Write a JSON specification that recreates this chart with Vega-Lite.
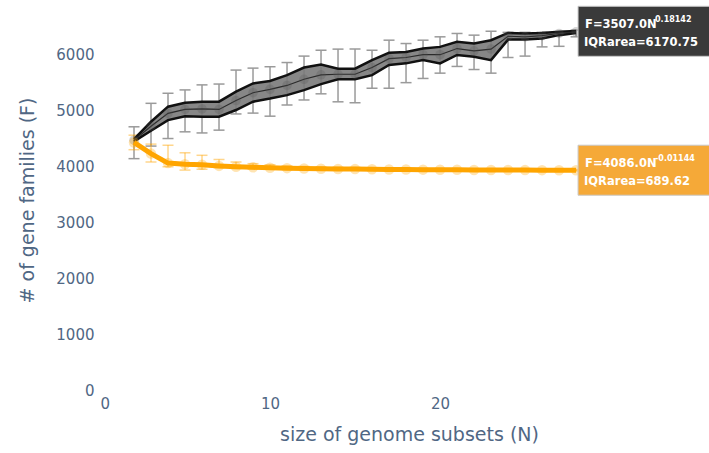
{
  "$schema": "https://vega.github.io/schema/vega-lite/v6.json",
  "autosize": {"type": "none"},
  "width": 609,
  "height": 380,
  "padding": {"left": 100, "top": 10, "right": 0, "bottom": 63},
  "background": "white",
  "datasets": {
    "pan": [
      {"N": 2, "med": 4470, "q1": 4450, "q3": 4490, "lo": 4140, "hi": 4710},
      {"N": 3, "med": 4720, "q1": 4640, "q3": 4800, "lo": 4365, "hi": 5130},
      {"N": 4, "med": 4950, "q1": 4830, "q3": 5070, "lo": 4500, "hi": 5310},
      {"N": 5, "med": 5020, "q1": 4900, "q3": 5140, "lo": 4620, "hi": 5370},
      {"N": 6, "med": 5030, "q1": 4890, "q3": 5160, "lo": 4600, "hi": 5460},
      {"N": 7, "med": 5020, "q1": 4890, "q3": 5160, "lo": 4650, "hi": 5475},
      {"N": 8, "med": 5180, "q1": 5010, "q3": 5340, "lo": 4940, "hi": 5725},
      {"N": 9, "med": 5320, "q1": 5160, "q3": 5485, "lo": 4955, "hi": 5760},
      {"N": 10, "med": 5380, "q1": 5215, "q3": 5530, "lo": 4900, "hi": 5785},
      {"N": 11, "med": 5450, "q1": 5277, "q3": 5635, "lo": 5100, "hi": 5860},
      {"N": 12, "med": 5560, "q1": 5367, "q3": 5770, "lo": 5190, "hi": 5975},
      {"N": 13, "med": 5640, "q1": 5474, "q3": 5823, "lo": 5300, "hi": 6080},
      {"N": 14, "med": 5650, "q1": 5560, "q3": 5750, "lo": 5157, "hi": 6100},
      {"N": 15, "med": 5650, "q1": 5560, "q3": 5750, "lo": 5140, "hi": 6100},
      {"N": 16, "med": 5770, "q1": 5635, "q3": 5903, "lo": 5400, "hi": 6080},
      {"N": 17, "med": 5930, "q1": 5815, "q3": 6035, "lo": 5400, "hi": 6260},
      {"N": 18, "med": 5950, "q1": 5845, "q3": 6050, "lo": 5500, "hi": 6200},
      {"N": 19, "med": 6000, "q1": 5903, "q3": 6110, "lo": 5575, "hi": 6260},
      {"N": 20, "med": 6000, "q1": 5845, "q3": 6140, "lo": 5670, "hi": 6320},
      {"N": 21, "med": 6110, "q1": 5995, "q3": 6230, "lo": 5790, "hi": 6380},
      {"N": 22, "med": 6070, "q1": 5965, "q3": 6200, "lo": 5735, "hi": 6350},
      {"N": 23, "med": 6100, "q1": 5903, "q3": 6260, "lo": 5670, "hi": 6420},
      {"N": 24, "med": 6330, "q1": 6270, "q3": 6390, "lo": 5950, "hi": 6400},
      {"N": 25, "med": 6320, "q1": 6270, "q3": 6380, "lo": 5975, "hi": 6400},
      {"N": 26, "med": 6340, "q1": 6290, "q3": 6390, "lo": 6140, "hi": 6400},
      {"N": 27, "med": 6380, "q1": 6350, "q3": 6410, "lo": 6150, "hi": 6410},
      {"N": 28, "med": 6410, "q1": 6390, "q3": 6425, "lo": 6320, "hi": 6440}
    ],
    "core": [
      {"N": 2, "med": 4430, "q1": 4410, "q3": 4450, "lo": 4300, "hi": 4560},
      {"N": 3, "med": 4230, "q1": 4200, "q3": 4260, "lo": 4080, "hi": 4400},
      {"N": 4, "med": 4060, "q1": 4040, "q3": 4080, "lo": 3995, "hi": 4380},
      {"N": 5, "med": 4040, "q1": 4020, "q3": 4060, "lo": 3935, "hi": 4245},
      {"N": 6, "med": 4030, "q1": 4010, "q3": 4050, "lo": 3950, "hi": 4200},
      {"N": 7, "med": 4010, "q1": 3990, "q3": 4030, "lo": 3980, "hi": 4125},
      {"N": 8, "med": 3995, "q1": 3975, "q3": 4015, "lo": 3965, "hi": 4080},
      {"N": 9, "med": 3985, "q1": 3965, "q3": 4005, "lo": 3955, "hi": 4050},
      {"N": 10, "med": 3978, "q1": 3960, "q3": 3996, "lo": 3950, "hi": 4030},
      {"N": 11, "med": 3970, "q1": 3952, "q3": 3988, "lo": 3945, "hi": 4010},
      {"N": 12, "med": 3965, "q1": 3948, "q3": 3982, "lo": 3940, "hi": 4000},
      {"N": 13, "med": 3960, "q1": 3944, "q3": 3976, "lo": 3938, "hi": 3992},
      {"N": 14, "med": 3956, "q1": 3940, "q3": 3972, "lo": 3935, "hi": 3985},
      {"N": 15, "med": 3953, "q1": 3938, "q3": 3968, "lo": 3933, "hi": 3980},
      {"N": 16, "med": 3950, "q1": 3936, "q3": 3964, "lo": 3930, "hi": 3975},
      {"N": 17, "med": 3947, "q1": 3934, "q3": 3960, "lo": 3928, "hi": 3970},
      {"N": 18, "med": 3945, "q1": 3932, "q3": 3958, "lo": 3926, "hi": 3966},
      {"N": 19, "med": 3943, "q1": 3931, "q3": 3955, "lo": 3925, "hi": 3963},
      {"N": 20, "med": 3941, "q1": 3930, "q3": 3952, "lo": 3924, "hi": 3960},
      {"N": 21, "med": 3940, "q1": 3929, "q3": 3951, "lo": 3923, "hi": 3958},
      {"N": 22, "med": 3938, "q1": 3928, "q3": 3948, "lo": 3922, "hi": 3955},
      {"N": 23, "med": 3937, "q1": 3927, "q3": 3947, "lo": 3921, "hi": 3953},
      {"N": 24, "med": 3936, "q1": 3927, "q3": 3945, "lo": 3920, "hi": 3952},
      {"N": 25, "med": 3935, "q1": 3926, "q3": 3944, "lo": 3920, "hi": 3950},
      {"N": 26, "med": 3934, "q1": 3926, "q3": 3942, "lo": 3920, "hi": 3948},
      {"N": 27, "med": 3933, "q1": 3926, "q3": 3940, "lo": 3920, "hi": 3946},
      {"N": 28, "med": 3932, "q1": 3926, "q3": 3938, "lo": 3920, "hi": 3944}
    ],
    "notes": [
      {"series": "pan", "N": 28, "F": 6419, "formula": "F=3507.0N", "exponent": "0.18142", "iqr": "IQRarea=6170.75"},
      {"series": "core", "N": 28, "F": 3933, "formula": "F=4086.0N", "exponent": "-0.01144", "iqr": "IQRarea=689.62"}
    ]
  },
  "encoding": {
    "x": {"field": "N", "type": "quantitative", "scale": {"domain": [0, 35.82], "nice": false, "zero": false},
          "axis": {"values": [0, 10, 20], "format": "d", "title": "size of genome subsets (N)", "titleX": 309}}
  },
  "layer": [
    {
      "data": {"name": "pan"},
      "mark": {"type": "rule", "color": "#9a9a9a", "strokeWidth": 1.5},
      "encoding": {
        "y": {"field": "lo", "type": "quantitative", "title": "# of gene families (F)",
              "scale": {"domain": [0, 6800], "nice": false},
              "axis": {"values": [0, 1000, 2000, 3000, 4000, 5000, 6000], "format": "d"}},
        "y2": {"field": "hi"}
      }
    },
    {
      "data": {"name": "pan"},
      "mark": {"type": "tick", "orient": "horizontal", "color": "#9a9a9a", "size": 11, "thickness": 1.5, "opacity": 1},
      "encoding": {"y": {"field": "lo", "type": "quantitative", "title": "# of gene families (F)"}}
    },
    {
      "data": {"name": "pan"},
      "mark": {"type": "tick", "orient": "horizontal", "color": "#9a9a9a", "size": 11, "thickness": 1.5, "opacity": 1},
      "encoding": {"y": {"field": "hi", "type": "quantitative", "title": "# of gene families (F)"}}
    },
    {
      "data": {"name": "core"},
      "mark": {"type": "rule", "color": "#FFA500", "strokeWidth": 1.5, "opacity": 0.45},
      "encoding": {
        "y": {"field": "lo", "type": "quantitative", "title": "# of gene families (F)"},
        "y2": {"field": "hi"}
      }
    },
    {
      "data": {"name": "core"},
      "mark": {"type": "tick", "orient": "horizontal", "color": "#FFA500", "size": 11, "thickness": 1.5, "opacity": 0.45},
      "encoding": {"y": {"field": "lo", "type": "quantitative", "title": "# of gene families (F)"}}
    },
    {
      "data": {"name": "core"},
      "mark": {"type": "tick", "orient": "horizontal", "color": "#FFA500", "size": 11, "thickness": 1.5, "opacity": 0.45},
      "encoding": {"y": {"field": "hi", "type": "quantitative", "title": "# of gene families (F)"}}
    },
    {
      "data": {"name": "pan"},
      "mark": {"type": "area", "color": "#7a7a7a", "opacity": 0.9},
      "encoding": {
        "y": {"field": "q1", "type": "quantitative", "title": "# of gene families (F)"},
        "y2": {"field": "q3"}
      }
    },
    {
      "data": {"name": "pan"},
      "mark": {"type": "line", "color": "#111111", "strokeWidth": 2.5},
      "encoding": {"y": {"field": "q1", "type": "quantitative", "title": "# of gene families (F)"}}
    },
    {
      "data": {"name": "pan"},
      "mark": {"type": "line", "color": "#111111", "strokeWidth": 2.5},
      "encoding": {"y": {"field": "q3", "type": "quantitative", "title": "# of gene families (F)"}}
    },
    {
      "data": {"name": "pan"},
      "mark": {"type": "line", "color": "#2a2a2a", "strokeWidth": 1.2},
      "encoding": {"y": {"field": "med", "type": "quantitative", "title": "# of gene families (F)"}}
    },
    {
      "data": {"name": "pan"},
      "mark": {"type": "circle", "color": "#555555", "size": 90, "opacity": 0.25},
      "encoding": {"y": {"field": "med", "type": "quantitative", "title": "# of gene families (F)"}}
    },
    {
      "data": {"name": "core"},
      "mark": {"type": "area", "color": "#FFA500", "opacity": 0.5},
      "encoding": {
        "y": {"field": "q1", "type": "quantitative", "title": "# of gene families (F)"},
        "y2": {"field": "q3"}
      }
    },
    {
      "data": {"name": "core"},
      "mark": {"type": "line", "color": "#FFA500", "strokeWidth": 5},
      "encoding": {"y": {"field": "med", "type": "quantitative", "title": "# of gene families (F)"}}
    },
    {
      "data": {"name": "core"},
      "mark": {"type": "circle", "color": "#FFA500", "size": 110, "opacity": 0.3},
      "encoding": {"y": {"field": "med", "type": "quantitative", "title": "# of gene families (F)"}}
    },
    {
      "data": {"name": "notes"},
      "mark": {"type": "point", "shape": "M0.08,-1H5.8V1H0.08Z", "size": 2500, "filled": true, "opacity": 1, "stroke": "#c8c8c8", "strokeWidth": 1},
      "encoding": {
        "y": {"field": "F", "type": "quantitative", "title": "# of gene families (F)"},
        "fill": {"field": "series", "type": "nominal", "scale": {"domain": ["pan", "core"], "range": ["#3a3a3a", "#f5a938"]}, "legend": null}
      }
    },
    {
      "data": {"name": "notes"},
      "mark": {"type": "text", "align": "left", "baseline": "middle", "dx": 9, "dy": -6, "font": "DejaVu Sans", "fontWeight": "bold", "fontSize": 11.5, "color": "white"},
      "encoding": {
        "y": {"field": "F", "type": "quantitative", "title": "# of gene families (F)"},
        "text": {"field": "formula"}
      }
    },
    {
      "data": {"name": "notes"},
      "mark": {"type": "text", "align": "left", "baseline": "middle", "dx": 79, "dy": -11, "font": "DejaVu Sans", "fontWeight": "bold", "fontSize": 8, "color": "white"},
      "encoding": {
        "y": {"field": "F", "type": "quantitative", "title": "# of gene families (F)"},
        "text": {"field": "exponent"}
      }
    },
    {
      "data": {"name": "notes"},
      "mark": {"type": "text", "align": "left", "baseline": "middle", "dx": 8, "dy": 12, "font": "DejaVu Sans", "fontWeight": "bold", "fontSize": 11.5, "color": "white"},
      "encoding": {
        "y": {"field": "F", "type": "quantitative", "title": "# of gene families (F)"},
        "text": {"field": "iqr"}
      }
    }
  ],
  "config": {
    "view": {"stroke": null},
    "axis": {
      "grid": false, "domain": false, "ticks": false,
      "labelFont": "DejaVu Sans", "titleFont": "DejaVu Sans",
      "labelColor": "#506784", "titleColor": "#506784",
      "labelFontSize": 15, "titleFontSize": 19, "titleFontWeight": "normal"
    },
    "axisX": {"labelPadding": 6, "titlePadding": 14},
    "axisY": {"labelPadding": 6, "titlePadding": 18}
  }
}
